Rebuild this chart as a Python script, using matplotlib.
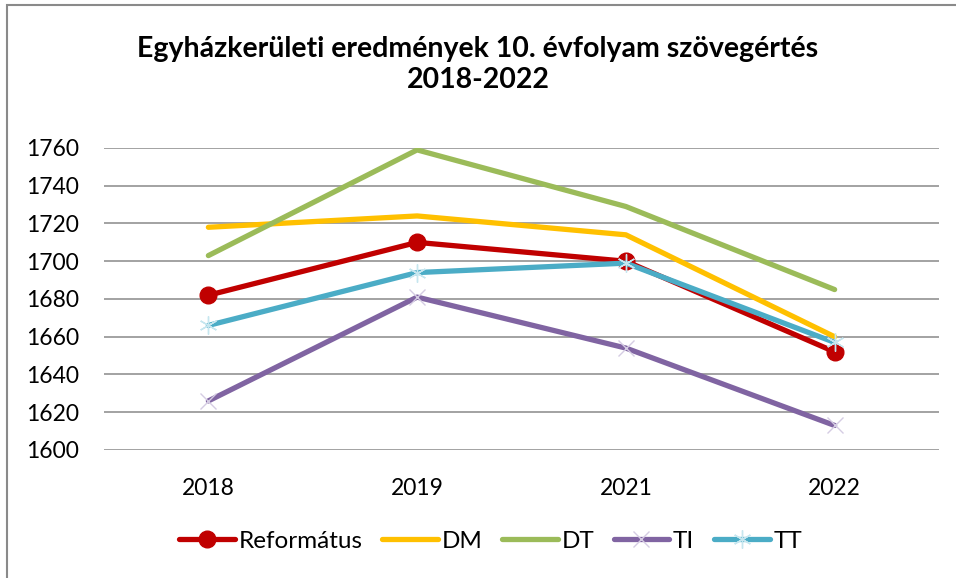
import matplotlib
matplotlib.use("Agg")
import matplotlib.pyplot as plt
from matplotlib.patches import Rectangle

years = ["2018", "2019", "2021", "2022"]
reformatus = [1682, 1710, 1700, 1652]
dm = [1718, 1724, 1714, 1660]
dt = [1703, 1759, 1729, 1685]
ti = [1626, 1681, 1654, 1613]
tt = [1666, 1694, 1699, 1657]
title_lines = ["Egyházkerületi eredmények 10. évfolyam szövegértés", "2018-2022"]
yticks = [1600, 1620, 1640, 1660, 1680, 1700, 1720, 1740, 1760]

plt.rcParams['font.family'] = ['Lato', 'DejaVu Sans']

W, H = 956, 578
fig = plt.figure(figsize=(W / 100, H / 100), dpi=100)
ax = fig.add_axes([104 / W, 1 - 450 / H, (939 - 104) / W, (450 - 148) / H])

x = list(range(len(years)))
lw = 3.8
ax.plot(x, reformatus, color="#C00000", lw=lw, solid_capstyle="round",
        marker="o", ms=12, mfc="#C00000", mec="#C00000", label="Református", zorder=3)
ax.plot(x, dm, color="#FFC000", lw=lw, solid_capstyle="round", label="DM", zorder=3)
ax.plot(x, dt, color="#9BBB59", lw=lw, solid_capstyle="round", label="DT", zorder=3)
ax.plot(x, ti, color="#8064A2", lw=lw, solid_capstyle="round",
        marker="x", ms=12, mec="#D5CCE3", mew=1.0, label="TI", zorder=3)
ax.plot(x, tt, color="#4BACC6", lw=lw, solid_capstyle="round",
        marker=(6, 2, 0), ms=13, mec="#C6E6EF", mew=1.0, label="TT", zorder=3)

ax.set_xlim(-0.5, len(years) - 0.5)
ax.set_ylim(1600, 1760)
ax.set_yticks(yticks)
ax.set_xticks(x)
ax.set_xticklabels(years)
ax.grid(axis="y", color="#898989", lw=1.1)
ax.set_axisbelow(True)
for s in ax.spines.values():
    s.set_visible(False)
ax.tick_params(axis="both", length=0, labelsize=16.5, labelcolor="#000000")
ax.tick_params(axis="y", pad=18)
ax.tick_params(axis="x", pad=20)

fig.text(0.5, 1 - 57 / H, title_lines[0], ha="center", va="baseline", fontsize=20.5,
         fontweight="bold")
fig.text(0.5, 1 - 88 / H, title_lines[1], ha="center", va="baseline", fontsize=20.5,
         fontweight="bold")

fig.legend(loc="center", bbox_to_anchor=(490.5 / W, 1 - 541 / H), ncol=5,
           frameon=False, fontsize=17.5, handlelength=2.3, handletextpad=0.15,
           columnspacing=0.8, borderaxespad=0, borderpad=0)

fig.patches.append(Rectangle((7 / W, -0.1), 2, 1 - 5 / H + 0.1, transform=fig.transFigure,
                             fill=False, edgecolor="#8a8a8a", lw=1.5))

fig.savefig("out.png", dpi=100)
